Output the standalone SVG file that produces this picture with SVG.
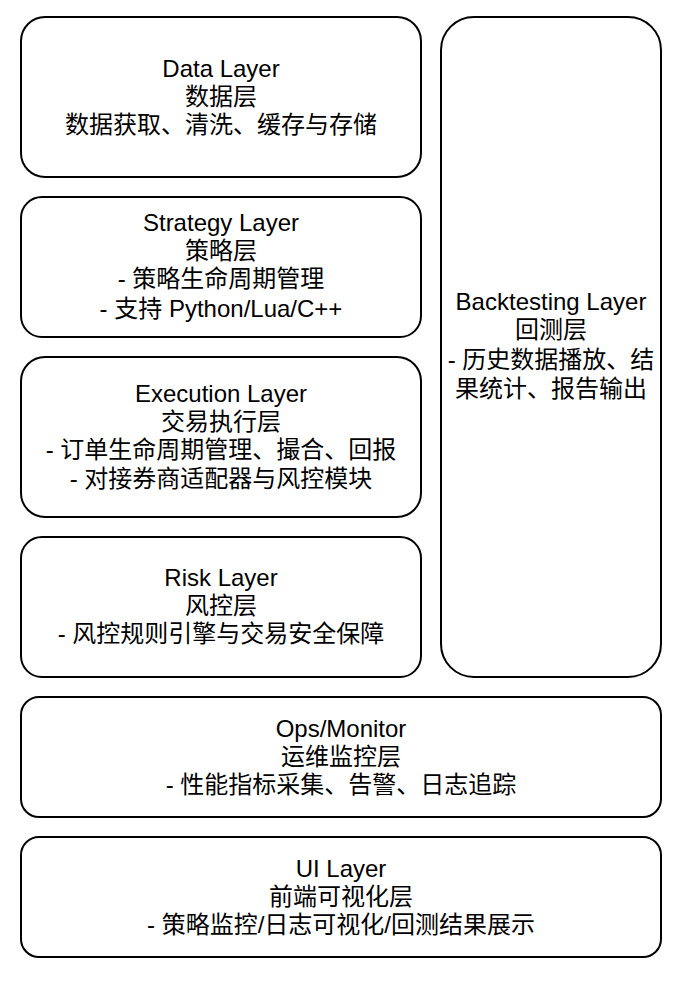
<svg xmlns="http://www.w3.org/2000/svg" width="688" height="982" viewBox="0 0 688 982">
<style>
.box{fill:#fff;stroke:#000;stroke-width:2}
text{font-family:"Liberation Sans","Noto Sans CJK SC",sans-serif;font-size:24px;fill:#000;text-anchor:middle}
</style>
<rect width="688" height="982" fill="#fff"/>
<g id="data-layer">
<rect class="box" x="21" y="17" width="400" height="160" rx="24" ry="24"/>
<text x="221" y="77">Data Layer</text>
<text x="221" y="105">数据层</text>
<text x="221" y="133">数据获取、清洗、缓存与存储</text>
</g>
<g id="strategy-layer">
<rect class="box" x="21" y="197" width="400" height="140" rx="21" ry="21"/>
<text x="221" y="231">Strategy Layer</text>
<text x="221" y="259">策略层</text>
<text x="221" y="287">- 策略生命周期管理</text>
<text x="221" y="317">- 支持 Python/Lua/C++</text>
</g>
<g id="execution-layer">
<rect class="box" x="21" y="357" width="400" height="160" rx="24" ry="24"/>
<text x="221" y="402">Execution Layer</text>
<text x="221" y="430">交易执行层</text>
<text x="221" y="458">- 订单生命周期管理、撮合、回报</text>
<text x="221" y="487">- 对接券商适配器与风控模块</text>
</g>
<g id="risk-layer">
<rect class="box" x="21" y="537" width="400" height="140" rx="21" ry="21"/>
<text x="221" y="586">Risk Layer</text>
<text x="221" y="614">风控层</text>
<text x="221" y="642">- 风控规则引擎与交易安全保障</text>
</g>
<g id="backtesting-layer">
<rect class="box" x="441" y="17" width="220" height="660" rx="33" ry="33"/>
<text x="551" y="310">Backtesting Layer</text>
<text x="551" y="338">回测层</text>
<text x="551" y="368">- 历史数据播放、结</text>
<text x="551" y="397">果统计、报告输出</text>
</g>
<g id="ops-monitor">
<rect class="box" x="21" y="697" width="640" height="120" rx="18" ry="18"/>
<text x="341" y="737">Ops/Monitor</text>
<text x="341" y="765">运维监控层</text>
<text x="341" y="793">- 性能指标采集、告警、日志追踪</text>
</g>
<g id="ui-layer">
<rect class="box" x="21" y="837" width="640" height="120" rx="18" ry="18"/>
<text x="341" y="877">UI Layer</text>
<text x="341" y="905">前端可视化层</text>
<text x="341" y="933">- 策略监控/日志可视化/回测结果展示</text>
</g>
<g id="connectors"/>
</svg>
